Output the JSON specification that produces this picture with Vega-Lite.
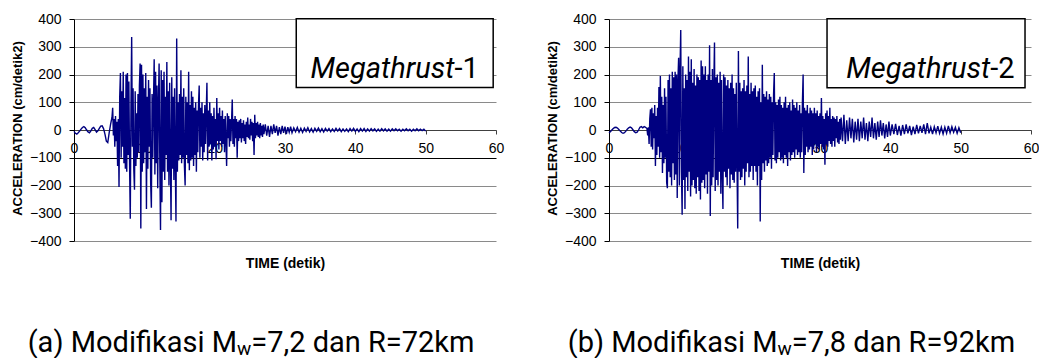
{
"$schema": "https://vega.github.io/schema/vega-lite/v6.json",
"background": "white",
"padding": {"left": 10, "top": 12, "right": 0, "bottom": 0},
"spacing": 41,
"config": {"view": {"stroke": null}, "font": "Liberation Sans"},
"datasets": {
"m1": [
{"x":0,"y":-5},{"x":0.2,"y":-12},{"x":0.4,"y":-15},{"x":0.6,"y":-10},{"x":0.8,"y":-4},{"x":1.0,"y":3},{"x":1.2,"y":9},{"x":1.4,"y":12},{"x":1.6,"y":8},{"x":1.8,"y":0},{"x":2.0,"y":-7},{"x":2.2,"y":-10},{"x":2.4,"y":-3},{"x":2.6,"y":6},{"x":2.8,"y":9},{"x":3.0,"y":1},{"x":3.2,"y":-8},{"x":3.4,"y":-3},{"x":3.6,"y":6},{"x":3.8,"y":14},{"x":4.0,"y":15},{"x":4.2,"y":5},{"x":4.4,"y":-15},{"x":4.6,"y":-40},{"x":4.8,"y":-45},{"x":5.0,"y":-10},{"x":5.2,"y":20},{"x":5.4,"y":45},
{"x":5.5,"y":80},{"x":5.6,"y":-20},{"x":5.7,"y":40},{"x":5.8,"y":-60},{"x":5.9,"y":50},{"x":6.0,"y":-40},{"x":6.1,"y":30},{"x":6.2,"y":-130},{"x":6.3,"y":40},{"x":6.4,"y":-205},{"x":6.5,"y":120},{"x":6.6,"y":205},{"x":6.7,"y":-100},{"x":6.8,"y":140},{"x":6.9,"y":-60},{"x":7.0,"y":210},{"x":7.1,"y":-120},{"x":7.2,"y":115},{"x":7.3,"y":-140},{"x":7.4,"y":200},{"x":7.5,"y":-150},{"x":7.6,"y":205},{"x":7.7,"y":-90},{"x":7.8,"y":175},{"x":7.9,"y":-120},
{"x":8.0,"y":-320},{"x":8.1,"y":90},{"x":8.2,"y":335},{"x":8.3,"y":-60},{"x":8.4,"y":150},{"x":8.5,"y":-140},{"x":8.6,"y":-215},{"x":8.7,"y":140},{"x":8.8,"y":-130},{"x":8.9,"y":60},{"x":9.0,"y":-100},{"x":9.1,"y":130},{"x":9.2,"y":-80},{"x":9.3,"y":160},{"x":9.4,"y":240},{"x":9.5,"y":-355},{"x":9.6,"y":235},{"x":9.7,"y":-150},{"x":9.8,"y":200},{"x":9.9,"y":-120},
{"x":10.0,"y":150},{"x":10.1,"y":-80},{"x":10.2,"y":205},{"x":10.3,"y":-285},{"x":10.4,"y":120},{"x":10.5,"y":-140},{"x":10.6,"y":180},{"x":10.7,"y":-60},{"x":10.8,"y":150},{"x":10.9,"y":-190},{"x":11.0,"y":-280},{"x":11.1,"y":130},{"x":11.2,"y":-100},{"x":11.3,"y":100},{"x":11.4,"y":255},{"x":11.5,"y":-160},{"x":11.6,"y":210},{"x":11.7,"y":-120},{"x":11.8,"y":160},{"x":11.9,"y":-210},
{"x":12.0,"y":100},{"x":12.1,"y":240},{"x":12.2,"y":-120},{"x":12.3,"y":-360},{"x":12.4,"y":215},{"x":12.5,"y":-260},{"x":12.6,"y":180},{"x":12.7,"y":-150},{"x":12.8,"y":210},{"x":12.9,"y":-180},{"x":13.0,"y":120},{"x":13.1,"y":-90},{"x":13.2,"y":245},{"x":13.3,"y":-150},{"x":13.4,"y":140},{"x":13.5,"y":-200},{"x":13.6,"y":170},{"x":13.7,"y":-100},{"x":13.8,"y":-325},{"x":13.9,"y":190},
{"x":14.0,"y":-140},{"x":14.1,"y":120},{"x":14.2,"y":-180},{"x":14.3,"y":150},{"x":14.4,"y":-120},{"x":14.5,"y":-330},{"x":14.6,"y":330},{"x":14.7,"y":-150},{"x":14.8,"y":100},{"x":14.9,"y":-110},{"x":15.0,"y":130},{"x":15.1,"y":-90},{"x":15.2,"y":215},{"x":15.3,"y":-120},{"x":15.4,"y":120},{"x":15.5,"y":-100},{"x":15.6,"y":150},{"x":15.7,"y":-130},{"x":15.8,"y":-200},{"x":15.9,"y":120},
{"x":16.0,"y":-90},{"x":16.1,"y":100},{"x":16.2,"y":-120},{"x":16.3,"y":210},{"x":16.4,"y":-145},{"x":16.5,"y":90},{"x":16.6,"y":-110},{"x":16.7,"y":140},{"x":16.8,"y":-100},{"x":16.9,"y":120},{"x":17.0,"y":-130},{"x":17.1,"y":80},{"x":17.2,"y":-90},{"x":17.3,"y":100},{"x":17.4,"y":-150},{"x":17.5,"y":70},{"x":17.6,"y":-80},{"x":17.7,"y":90},{"x":17.8,"y":160},{"x":17.9,"y":-100},
{"x":18.0,"y":80},{"x":18.1,"y":-60},{"x":18.2,"y":100},{"x":18.3,"y":-110},{"x":18.4,"y":60},{"x":18.5,"y":-80},{"x":18.6,"y":90},{"x":18.7,"y":-50},{"x":18.8,"y":60},{"x":18.9,"y":170},{"x":19.0,"y":-110},{"x":19.1,"y":70},{"x":19.2,"y":-60},{"x":19.3,"y":100},{"x":19.4,"y":-50},{"x":19.5,"y":60},{"x":19.6,"y":-110},{"x":19.7,"y":50},{"x":19.8,"y":-70},{"x":19.9,"y":80},
{"x":20.0,"y":-60},{"x":20.1,"y":40},{"x":20.2,"y":-105},{"x":20.3,"y":115},{"x":20.4,"y":-40},{"x":20.5,"y":60},{"x":20.6,"y":-70},{"x":20.7,"y":80},{"x":20.8,"y":-40},{"x":20.9,"y":50},{"x":21.0,"y":-60},{"x":21.1,"y":70},{"x":21.2,"y":-50},{"x":21.3,"y":40},{"x":21.4,"y":-80},{"x":21.5,"y":50},{"x":21.6,"y":-40},{"x":21.7,"y":-130},{"x":21.8,"y":60},{"x":21.9,"y":-30},
{"x":22.0,"y":50},{"x":22.1,"y":-60},{"x":22.2,"y":40},{"x":22.3,"y":-40},{"x":22.4,"y":30},{"x":22.5,"y":110},{"x":22.6,"y":-50},{"x":22.7,"y":40},{"x":22.8,"y":-60},{"x":22.9,"y":50},{"x":23.0,"y":-30},{"x":23.1,"y":40},{"x":23.2,"y":-100},{"x":23.3,"y":30},{"x":23.4,"y":-40},{"x":23.5,"y":35},{"x":23.6,"y":-30},{"x":23.7,"y":40},{"x":23.8,"y":-45},{"x":23.9,"y":25},
{"x":24.0,"y":-30},{"x":24.1,"y":35},{"x":24.2,"y":-40},{"x":24.3,"y":20},{"x":24.4,"y":-50},{"x":24.5,"y":30},{"x":24.6,"y":-25},{"x":24.7,"y":45},{"x":24.8,"y":-30},{"x":24.9,"y":20},{"x":25.0,"y":-35},{"x":25.1,"y":40},{"x":25.2,"y":-20},{"x":25.3,"y":30},{"x":25.4,"y":-40},{"x":25.5,"y":25},{"x":25.6,"y":-90},{"x":25.7,"y":55},{"x":25.8,"y":-30},{"x":25.9,"y":25},
{"x":26.0,"y":-20},{"x":26.1,"y":30},{"x":26.2,"y":-25},{"x":26.3,"y":20},{"x":26.4,"y":-30},{"x":26.5,"y":25},{"x":26.6,"y":-20},{"x":26.7,"y":15},{"x":26.8,"y":-25},{"x":26.9,"y":20},{"x":27.0,"y":-15},
{"x":27.2,"y":20},{"x":27.4,"y":-20},{"x":27.6,"y":15},{"x":27.8,"y":-25},{"x":28.0,"y":15},{"x":28.2,"y":-15},{"x":28.4,"y":20},{"x":28.6,"y":-10},{"x":28.8,"y":15},{"x":29.0,"y":-20},{"x":29.2,"y":10},{"x":29.4,"y":-15},{"x":29.6,"y":15},{"x":29.8,"y":-10},{"x":30.0,"y":12},{"x":30.2,"y":-15},{"x":30.4,"y":10},{"x":30.6,"y":-8},{"x":30.8,"y":12},{"x":31.0,"y":-10},
{"x":31.25,"y":8},{"x":31.5,"y":-6},{"x":31.75,"y":9},{"x":32,"y":-8},{"x":32.25,"y":6},{"x":32.5,"y":-9},{"x":32.75,"y":7},{"x":33,"y":-5},{"x":33.25,"y":8},{"x":33.5,"y":-7},{"x":33.75,"y":5},{"x":34,"y":-8},{"x":34.25,"y":6},{"x":34.5,"y":-5},{"x":34.75,"y":7},{"x":35,"y":-6},{"x":35.25,"y":5},{"x":35.5,"y":-7},{"x":35.75,"y":6},{"x":36,"y":-4},
{"x":36.25,"y":5},{"x":36.5,"y":-6},{"x":36.75,"y":4},{"x":37,"y":-5},{"x":37.25,"y":6},{"x":37.5,"y":-4},{"x":37.75,"y":5},{"x":38,"y":-6},{"x":38.25,"y":4},{"x":38.5,"y":-5},{"x":38.75,"y":4},{"x":39,"y":-6},{"x":39.25,"y":5},{"x":39.5,"y":-4},{"x":39.75,"y":6},{"x":40,"y":-5},{"x":40.25,"y":4},{"x":40.5,"y":-6},{"x":40.75,"y":5},{"x":41,"y":-4},
{"x":41.25,"y":5},{"x":41.5,"y":-5},{"x":41.75,"y":4},{"x":42,"y":-4},{"x":42.25,"y":5},{"x":42.5,"y":-3},{"x":42.75,"y":4},{"x":43,"y":-5},{"x":43.25,"y":3},{"x":43.5,"y":-4},{"x":43.75,"y":5},{"x":44,"y":-3},{"x":44.25,"y":4},{"x":44.5,"y":-4},{"x":44.75,"y":3},{"x":45,"y":-4},{"x":45.25,"y":4},{"x":45.5,"y":-3},{"x":45.75,"y":4},{"x":46,"y":-3},
{"x":46.25,"y":3},{"x":46.5,"y":-4},{"x":46.75,"y":3},{"x":47,"y":-3},{"x":47.25,"y":4},{"x":47.5,"y":-3},{"x":47.75,"y":3},{"x":48,"y":-4},{"x":48.25,"y":3},{"x":48.5,"y":-3},{"x":48.75,"y":4},{"x":49,"y":-3},{"x":49.25,"y":3},{"x":49.5,"y":-2},{"x":49.75,"y":3},{"x":50,"y":-4}
],
"m2": [
{"x":0,"y":-10},{"x":0.2,"y":-6},{"x":0.4,"y":0},{"x":0.6,"y":5},{"x":0.8,"y":9},{"x":1.0,"y":10},{"x":1.2,"y":7},{"x":1.4,"y":2},{"x":1.6,"y":-4},{"x":1.8,"y":-9},{"x":2.0,"y":-12},{"x":2.2,"y":-10},{"x":2.4,"y":-4},{"x":2.6,"y":3},{"x":2.8,"y":8},{"x":3.0,"y":11},{"x":3.2,"y":8},{"x":3.4,"y":1},{"x":3.6,"y":-6},{"x":3.8,"y":-10},{"x":4.0,"y":-8},{"x":4.2,"y":0},{"x":4.4,"y":10},{"x":4.6,"y":12},{"x":4.8,"y":8},{"x":5.0,"y":12},{"x":5.2,"y":10},{"x":5.4,"y":5},
{"x":5.5,"y":-20},{"x":5.6,"y":10},{"x":5.7,"y":-50},{"x":5.8,"y":40},{"x":5.9,"y":75},{"x":6.0,"y":-60},{"x":6.1,"y":80},{"x":6.2,"y":-70},{"x":6.3,"y":60},{"x":6.4,"y":-30},{"x":6.5,"y":90},{"x":6.6,"y":-130},{"x":6.7,"y":50},{"x":6.8,"y":-90},{"x":6.9,"y":80},{"x":7.0,"y":-60},{"x":7.1,"y":155},{"x":7.2,"y":-100},{"x":7.3,"y":195},{"x":7.4,"y":-80},{"x":7.5,"y":120},{"x":7.6,"y":-155},{"x":7.7,"y":90},{"x":7.8,"y":-120},{"x":7.9,"y":150},
{"x":8.0,"y":-100},{"x":8.1,"y":120},{"x":8.2,"y":-190},{"x":8.3,"y":-210},{"x":8.4,"y":180},{"x":8.5,"y":-150},{"x":8.6,"y":200},{"x":8.7,"y":-170},{"x":8.8,"y":150},{"x":8.9,"y":-200},{"x":9.0,"y":210},{"x":9.1,"y":-120},{"x":9.2,"y":190},{"x":9.3,"y":-180},{"x":9.4,"y":210},{"x":9.5,"y":-160},{"x":9.6,"y":200},{"x":9.7,"y":-245},{"x":9.8,"y":180},{"x":9.9,"y":260},
{"x":10.0,"y":-200},{"x":10.1,"y":220},{"x":10.2,"y":360},{"x":10.3,"y":-150},{"x":10.4,"y":-305},{"x":10.5,"y":230},{"x":10.6,"y":-180},{"x":10.7,"y":150},{"x":10.8,"y":-285},{"x":10.9,"y":200},{"x":11.0,"y":-170},{"x":11.1,"y":180},{"x":11.2,"y":-220},{"x":11.3,"y":265},{"x":11.4,"y":-150},{"x":11.5,"y":210},{"x":11.6,"y":-240},{"x":11.7,"y":255},{"x":11.8,"y":-200},{"x":11.9,"y":170},
{"x":12.0,"y":-180},{"x":12.1,"y":220},{"x":12.2,"y":-210},{"x":12.3,"y":160},{"x":12.4,"y":-230},{"x":12.5,"y":200},{"x":12.6,"y":-170},{"x":12.7,"y":190},{"x":12.8,"y":-220},{"x":12.9,"y":180},{"x":13.0,"y":-250},{"x":13.1,"y":250},{"x":13.2,"y":-190},{"x":13.3,"y":230},{"x":13.4,"y":-180},{"x":13.5,"y":200},{"x":13.6,"y":-210},{"x":13.7,"y":230},{"x":13.8,"y":-160},{"x":13.9,"y":180},
{"x":14.0,"y":-230},{"x":14.1,"y":200},{"x":14.2,"y":-150},{"x":14.3,"y":305},{"x":14.4,"y":-310},{"x":14.5,"y":180},{"x":14.6,"y":-200},{"x":14.7,"y":220},{"x":14.8,"y":-170},{"x":14.9,"y":160},{"x":15.0,"y":315},{"x":15.1,"y":-220},{"x":15.2,"y":190},{"x":15.3,"y":-180},{"x":15.4,"y":200},{"x":15.5,"y":-200},{"x":15.6,"y":170},{"x":15.7,"y":-150},{"x":15.8,"y":210},{"x":15.9,"y":-230},
{"x":16.0,"y":180},{"x":16.1,"y":-160},{"x":16.2,"y":-285},{"x":16.3,"y":200},{"x":16.4,"y":-150},{"x":16.5,"y":190},{"x":16.6,"y":-170},{"x":16.7,"y":160},{"x":16.8,"y":-200},{"x":16.9,"y":180},{"x":17.0,"y":-140},{"x":17.1,"y":150},{"x":17.2,"y":-210},{"x":17.3,"y":170},{"x":17.4,"y":-160},{"x":17.5,"y":200},{"x":17.6,"y":-180},{"x":17.7,"y":150},{"x":17.8,"y":-190},{"x":17.9,"y":130},
{"x":18.0,"y":-150},{"x":18.1,"y":170},{"x":18.2,"y":-120},{"x":18.3,"y":-355},{"x":18.4,"y":285},{"x":18.5,"y":-150},{"x":18.6,"y":170},{"x":18.7,"y":-180},{"x":18.8,"y":140},{"x":18.9,"y":-170},{"x":19.0,"y":150},{"x":19.1,"y":-140},{"x":19.2,"y":180},{"x":19.3,"y":-200},{"x":19.4,"y":140},{"x":19.5,"y":-150},{"x":19.6,"y":160},{"x":19.7,"y":-120},{"x":19.8,"y":265},{"x":19.9,"y":-170},
{"x":20.0,"y":130},{"x":20.1,"y":-150},{"x":20.2,"y":170},{"x":20.3,"y":-130},{"x":20.4,"y":140},{"x":20.5,"y":-180},{"x":20.6,"y":150},{"x":20.7,"y":-130},{"x":20.8,"y":160},{"x":20.9,"y":-150},{"x":21.0,"y":120},{"x":21.1,"y":-200},{"x":21.2,"y":140},{"x":21.3,"y":-130},{"x":21.4,"y":150},{"x":21.5,"y":-330},{"x":21.6,"y":100},{"x":21.7,"y":-180},{"x":21.8,"y":235},{"x":21.9,"y":-120},
{"x":22.0,"y":130},{"x":22.1,"y":-150},{"x":22.2,"y":120},{"x":22.3,"y":-110},{"x":22.4,"y":140},{"x":22.5,"y":-130},{"x":22.6,"y":110},{"x":22.7,"y":-120},{"x":22.8,"y":130},{"x":22.9,"y":-100},{"x":23.0,"y":120},{"x":23.1,"y":-140},{"x":23.2,"y":100},{"x":23.3,"y":-90},{"x":23.4,"y":130},{"x":23.5,"y":205},{"x":23.6,"y":-110},{"x":23.7,"y":100},{"x":23.8,"y":-120},{"x":23.9,"y":90},
{"x":24.0,"y":-100},{"x":24.1,"y":110},{"x":24.2,"y":-80},{"x":24.3,"y":120},{"x":24.4,"y":-110},{"x":24.5,"y":90},{"x":24.6,"y":-100},{"x":24.7,"y":80},{"x":24.8,"y":-120},{"x":24.9,"y":100},{"x":25.0,"y":-90},{"x":25.1,"y":120},{"x":25.2,"y":-100},{"x":25.3,"y":80},{"x":25.4,"y":-130},{"x":25.5,"y":90},{"x":25.6,"y":-80},{"x":25.7,"y":100},{"x":25.8,"y":-110},{"x":25.9,"y":70},
{"x":26.0,"y":-90},{"x":26.1,"y":110},{"x":26.2,"y":-80},{"x":26.3,"y":90},{"x":26.4,"y":-100},{"x":26.5,"y":80},{"x":26.6,"y":-70},{"x":26.7,"y":100},{"x":26.8,"y":-90},{"x":26.9,"y":70},{"x":27.0,"y":-80},{"x":27.1,"y":90},{"x":27.2,"y":-100},{"x":27.3,"y":60},{"x":27.4,"y":-80},{"x":27.5,"y":100},{"x":27.6,"y":200},{"x":27.7,"y":-155},{"x":27.8,"y":80},{"x":27.9,"y":-90},
{"x":28.0,"y":70},{"x":28.1,"y":-60},{"x":28.2,"y":90},{"x":28.3,"y":-80},{"x":28.4,"y":60},{"x":28.5,"y":-70},{"x":28.6,"y":80},{"x":28.7,"y":-60},{"x":28.8,"y":70},{"x":28.9,"y":-90},{"x":29.0,"y":60},{"x":29.1,"y":-70},{"x":29.2,"y":80},{"x":29.3,"y":-50},{"x":29.4,"y":60},{"x":29.5,"y":-80},{"x":29.6,"y":70},{"x":29.7,"y":-60},{"x":29.8,"y":50},{"x":29.9,"y":-70},
{"x":30.0,"y":60},{"x":30.1,"y":-50},{"x":30.2,"y":115},{"x":30.3,"y":-60},{"x":30.4,"y":50},{"x":30.5,"y":-70},{"x":30.6,"y":40},{"x":30.7,"y":-125},{"x":30.8,"y":60},{"x":30.9,"y":-50},{"x":31.0,"y":70},{"x":31.1,"y":-60},{"x":31.2,"y":50},{"x":31.3,"y":-40},{"x":31.4,"y":80},{"x":31.5,"y":-50},{"x":31.6,"y":40},{"x":31.7,"y":-60},{"x":31.8,"y":50},{"x":31.9,"y":-40},
{"x":32.0,"y":45},{"x":32.1,"y":-60},{"x":32.2,"y":40},{"x":32.3,"y":-30},{"x":32.4,"y":50},{"x":32.5,"y":-45},{"x":32.6,"y":30},{"x":32.7,"y":-50},{"x":32.8,"y":40},{"x":32.9,"y":-35},{"x":33.0,"y":45},
{"x":33.2,"y":-40},{"x":33.4,"y":55},{"x":33.6,"y":-50},{"x":33.8,"y":35},{"x":34.0,"y":-40},{"x":34.2,"y":45},{"x":34.4,"y":-30},{"x":34.6,"y":40},{"x":34.8,"y":-45},{"x":35.0,"y":30},{"x":35.2,"y":-35},{"x":35.4,"y":40},{"x":35.6,"y":-40},{"x":35.8,"y":30},{"x":36.0,"y":-30},{"x":36.2,"y":45},{"x":36.4,"y":-35},{"x":36.6,"y":25},{"x":36.8,"y":-40},{"x":37.0,"y":30},
{"x":37.2,"y":-25},{"x":37.4,"y":45},{"x":37.6,"y":-30},{"x":37.8,"y":25},{"x":38.0,"y":-35},{"x":38.2,"y":30},{"x":38.4,"y":-25},{"x":38.6,"y":35},{"x":38.8,"y":-20},{"x":39.0,"y":25},{"x":39.2,"y":-30},{"x":39.4,"y":20},{"x":39.6,"y":-25},{"x":39.8,"y":30},{"x":40.0,"y":-20},
{"x":40.25,"y":20},{"x":40.5,"y":-15},{"x":40.75,"y":22},{"x":41,"y":-18},{"x":41.25,"y":15},{"x":41.5,"y":-20},{"x":41.75,"y":18},{"x":42,"y":-15},{"x":42.25,"y":20},{"x":42.5,"y":-12},{"x":42.75,"y":15},{"x":43,"y":-18},{"x":43.25,"y":12},{"x":43.5,"y":-15},{"x":43.75,"y":18},{"x":44,"y":-12},{"x":44.25,"y":15},{"x":44.5,"y":-10},{"x":44.75,"y":20},{"x":45,"y":-15},
{"x":45.25,"y":25},{"x":45.5,"y":-12},{"x":45.75,"y":10},{"x":46,"y":-15},{"x":46.25,"y":12},{"x":46.5,"y":-10},{"x":46.75,"y":14},{"x":47,"y":-12},{"x":47.25,"y":10},{"x":47.5,"y":-14},{"x":47.75,"y":10},{"x":48,"y":-12},{"x":48.25,"y":15},{"x":48.5,"y":-10},{"x":48.75,"y":12},{"x":49,"y":-8},{"x":49.25,"y":10},{"x":49.5,"y":-12},{"x":49.75,"y":8},{"x":50,"y":-10}
]
},
"hconcat": [
{
"width": 422, "height": 222,
"encoding": {
  "x": {"field": "x", "type": "quantitative", "scale": {"domain": [0, 60], "nice": false},
   "axis": {"values": [0,10,20,30,40,50,60], "offset": -111, "grid": false, "labelFlush": false, "domainColor": "#404040", "tickColor": "#404040", "tickSize": 4, "labelPadding": 7, "labelFontSize": 14, "labelColor": "black", "labelFont": "Liberation Sans",
    "title": "TIME (detik)", "titleFontSize": 14, "titleFontWeight": "bold", "titleColor": "black", "titleFont": "Liberation Sans", "titleBaseline": "alphabetic", "titleY": 137.5}},
  "y": {"field": "y", "type": "quantitative", "scale": {"domain": [-400, 400], "nice": false},
   "axis": {"values": [-400,-300,-200,-100,0,100,200,300,400], "grid": true, "gridColor": {"condition": {"test": "datum.value === -100", "value": "black"}, "value": "#8a8a8a"}, "gridWidth": 1, "domainColor": "black", "tickColor": "black", "tickSize": 5, "labelPadding": 8, "labelFontSize": 14, "labelColor": "black", "labelFont": "Liberation Sans",
    "title": "ACCELERATION (cm/detik2)", "titleFontSize": 13, "titleFontWeight": "bold", "titleColor": "black", "titleFont": "Liberation Sans", "titleAngle": -90, "titleAlign": "center", "titleBaseline": "middle", "titleX": -57, "titleY": 109}}
},
"layer": [
{"data": {"name": "m1"},
 "mark": {"type": "line", "color": "#000080", "strokeWidth": 1.4}},
{"data": {"values": [{"x": 31.6, "x2": 59.6, "y": 401, "y2": 153}]},
 "mark": {"type": "rect", "fill": "white", "stroke": "black", "strokeWidth": 1.5},
 "encoding": {"x2": {"field": "x2"}, "y2": {"field": "y2"}}},
{"data": {"values": [{"x": 54.1, "y": 189, "label": "Megathrust"}]},
 "mark": {"type": "text", "font": "Roboto", "fontSize": 29, "fontStyle": "italic", "align": "right", "baseline": "alphabetic", "color": "black"},
 "encoding": {"text": {"field": "label"}}},
{"data": {"values": [{"x": 54.1, "y": 189, "label": "-1"}]},
 "mark": {"type": "text", "font": "Roboto", "fontSize": 29, "align": "left", "baseline": "alphabetic", "color": "black"},
 "encoding": {"text": {"field": "label"}}},
{"data": {"values": [{"x": 23.18, "y": -800, "label": "(a) Modifikasi M"}]},
 "mark": {"type": "text", "font": "Roboto", "fontSize": 29, "align": "right", "baseline": "alphabetic", "color": "black"},
 "encoding": {"text": {"field": "label"}}},
{"data": {"values": [{"x": 23.18, "y": -810, "label": "w"}]},
 "mark": {"type": "text", "font": "Roboto", "fontSize": 19, "align": "left", "baseline": "alphabetic", "color": "black"},
 "encoding": {"text": {"field": "label"}}},
{"data": {"values": [{"x": 25.2, "y": -800, "label": "=7,2 dan R=72km"}]},
 "mark": {"type": "text", "font": "Roboto", "fontSize": 29, "align": "left", "baseline": "alphabetic", "color": "black"},
 "encoding": {"text": {"field": "label"}}}
]
},
{
"width": 422, "height": 222,
"encoding": {
  "x": {"field": "x", "type": "quantitative", "scale": {"domain": [0, 60], "nice": false},
   "axis": {"values": [0,10,20,30,40,50,60], "offset": -111, "grid": false, "labelFlush": false, "domainColor": "#404040", "tickColor": "#404040", "tickSize": 4, "labelPadding": 7, "labelFontSize": 14, "labelColor": "black", "labelFont": "Liberation Sans",
    "title": "TIME (detik)", "titleFontSize": 14, "titleFontWeight": "bold", "titleColor": "black", "titleFont": "Liberation Sans", "titleBaseline": "alphabetic", "titleY": 137.5}},
  "y": {"field": "y", "type": "quantitative", "scale": {"domain": [-400, 400], "nice": false},
   "axis": {"values": [-400,-300,-200,-100,0,100,200,300,400], "grid": true, "gridColor": {"condition": {"test": "datum.value === -100", "value": "black"}, "value": "#8a8a8a"}, "gridWidth": 1, "domainColor": "black", "tickColor": "black", "tickSize": 5, "labelPadding": 8, "labelFontSize": 14, "labelColor": "black", "labelFont": "Liberation Sans",
    "title": "ACCELERATION (cm/detik2)", "titleFontSize": 13, "titleFontWeight": "bold", "titleColor": "black", "titleFont": "Liberation Sans", "titleAngle": -90, "titleAlign": "center", "titleBaseline": "middle", "titleX": -57, "titleY": 109}}
},
"layer": [
{"data": {"name": "m2"},
 "mark": {"type": "line", "color": "#000080", "strokeWidth": 1.4}},
{"data": {"values": [{"x": 31.0, "x2": 59.15, "y": 401, "y2": 152}]},
 "mark": {"type": "rect", "fill": "white", "stroke": "black", "strokeWidth": 1.5},
 "encoding": {"x2": {"field": "x2"}, "y2": {"field": "y2"}}},
{"data": {"values": [{"x": 54.2, "y": 189, "label": "Megathrust"}]},
 "mark": {"type": "text", "font": "Roboto", "fontSize": 29, "fontStyle": "italic", "align": "right", "baseline": "alphabetic", "color": "black"},
 "encoding": {"text": {"field": "label"}}},
{"data": {"values": [{"x": 54.2, "y": 189, "label": "-2"}]},
 "mark": {"type": "text", "font": "Roboto", "fontSize": 29, "align": "left", "baseline": "alphabetic", "color": "black"},
 "encoding": {"text": {"field": "label"}}},
{"data": {"values": [{"x": 23.97, "y": -800, "label": "(b) Modifikasi M"}]},
 "mark": {"type": "text", "font": "Roboto", "fontSize": 29, "align": "right", "baseline": "alphabetic", "color": "black"},
 "encoding": {"text": {"field": "label"}}},
{"data": {"values": [{"x": 23.97, "y": -810, "label": "w"}]},
 "mark": {"type": "text", "font": "Roboto", "fontSize": 19, "align": "left", "baseline": "alphabetic", "color": "black"},
 "encoding": {"text": {"field": "label"}}},
{"data": {"values": [{"x": 26.0, "y": -800, "label": "=7,8 dan R=92km"}]},
 "mark": {"type": "text", "font": "Roboto", "fontSize": 29, "align": "left", "baseline": "alphabetic", "color": "black"},
 "encoding": {"text": {"field": "label"}}}
]
}
]
}
